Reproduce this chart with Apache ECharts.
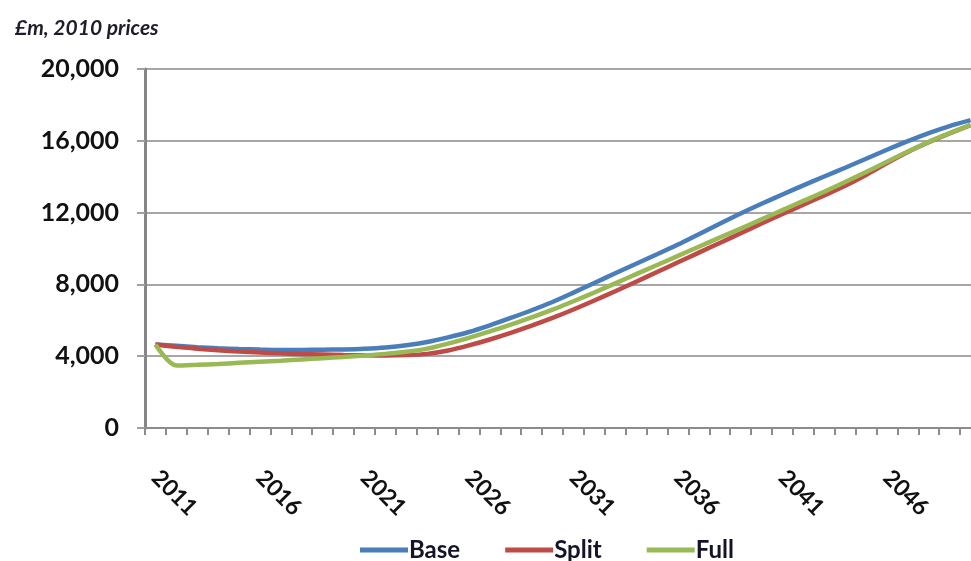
<!DOCTYPE html>
<html>
<head>
<meta charset="utf-8">
<script src="https://cdn.jsdelivr.net/npm/echarts@6/dist/echarts.min.js"></script>
<style>
html,body{margin:0;padding:0;background:#fff;overflow:hidden;width:971px;height:561px;}
#chart{width:981px;height:561px;}
</style>
</head>
<body>
<div id="chart"></div>
<script>
var years = [];
for (var y = 2011; y <= 2050; y++) years.push(String(y));

var titleText = '£m, 2010 prices';
var seriesNames = ['Base', 'Split', 'Full'];

var baseValues = [4650,4580,4500,4440,4400,4370,4350,4350,4360,4380,
                  4420,4490,4610,4790,5050,5350,5720,6130,6560,7020,
                  7540,8080,8620,9150,9680,10220,10800,11380,11950,12490,
                  13010,13520,14010,14500,15000,15500,15980,16430,16820,17150];

var splitValues = [4650,4520,4420,4330,4260,4200,4160,4120,4100,4070,
                   4050,4040,4060,4130,4320,4600,4930,5300,5700,6130,
                   6600,7100,7620,8150,8690,9230,9770,10310,10850,11390,
                   11920,12440,12960,13500,14100,14760,15380,15920,16410,16870];

var fullValues = [4650,3480,3520,3570,3630,3690,3750,3820,3890,3960,
                  4040,4130,4250,4420,4700,5020,5380,5760,6160,6590,
                  7060,7550,8060,8570,9080,9590,10100,10610,11110,11620,
                  12140,12650,13160,13700,14260,14830,15400,15940,16420,16880];

var yMin = 0, yMax = 20000, yStep = 4000;

var colors = ['#4a7ebb', '#be4b48', '#98b954'];
var FONT = 'Lato, "Open Sans", "Liberation Sans", sans-serif';

var chart = echarts.init(document.getElementById('chart'));
chart.setOption({
  animation: false,
  color: colors,
  title: {
    text: titleText,
    left: 10,
    top: 13,
    textStyle: {fontFamily: FONT, fontStyle: 'italic', fontWeight: 'bold', fontSize: 21, color: '#1e1e2a'}
  },
  legend: {
    left: 355,
    top: 533,
    itemWidth: 48,
    itemHeight: 5,
    itemGap: 45,
    icon: 'rect',
    textStyle: {fontFamily: FONT, fontWeight: 'bold', fontSize: 24, color: '#141428', padding: [0,0,0,-4]},
    data: seriesNames
  },
  grid: {left: 145, right: 0, top: 69, bottom: 133, containLabel: false},
  xAxis: {
    type: 'category',
    data: years,
    boundaryGap: true,
    axisLine: {show: true, lineStyle: {color: '#8c8c8c', width: 2}},
    axisTick: {show: true, interval: 0, length: 7, lineStyle: {color: '#8c8c8c', width: 2}},
    axisLabel: {
      interval: 4,
      rotate: -45,
      margin: 46,
      fontFamily: FONT,
      fontWeight: 'bold',
      fontSize: 23,
      color: '#111'
    },
    splitLine: {show: false}
  },
  yAxis: {
    type: 'value',
    min: yMin,
    max: yMax,
    interval: yStep,
    axisLine: {show: true, lineStyle: {color: '#868686', width: 3}},
    axisTick: {show: true, length: 8, lineStyle: {color: '#a0a0a0', width: 2}},
    axisLabel: {
      margin: 26,
      fontFamily: FONT,
      fontWeight: 'bold',
      fontSize: 25,
      color: '#111',
      formatter: function (v) { return v.toLocaleString('en-US'); }
    },
    splitLine: {show: true, lineStyle: {color: '#a6a6a6', width: 2}}
  },
  series: [
    {name: seriesNames[0], type: 'line', data: baseValues, symbol: 'none', smooth: 0.3, lineStyle: {width: 4.5}},
    {name: seriesNames[1], type: 'line', data: splitValues, symbol: 'none', smooth: 0.3, lineStyle: {width: 4.5}},
    {name: seriesNames[2], type: 'line', data: fullValues, symbol: 'none', smooth: 0.3, lineStyle: {width: 4.5}}
  ]
});
</script>
</body>
</html>
